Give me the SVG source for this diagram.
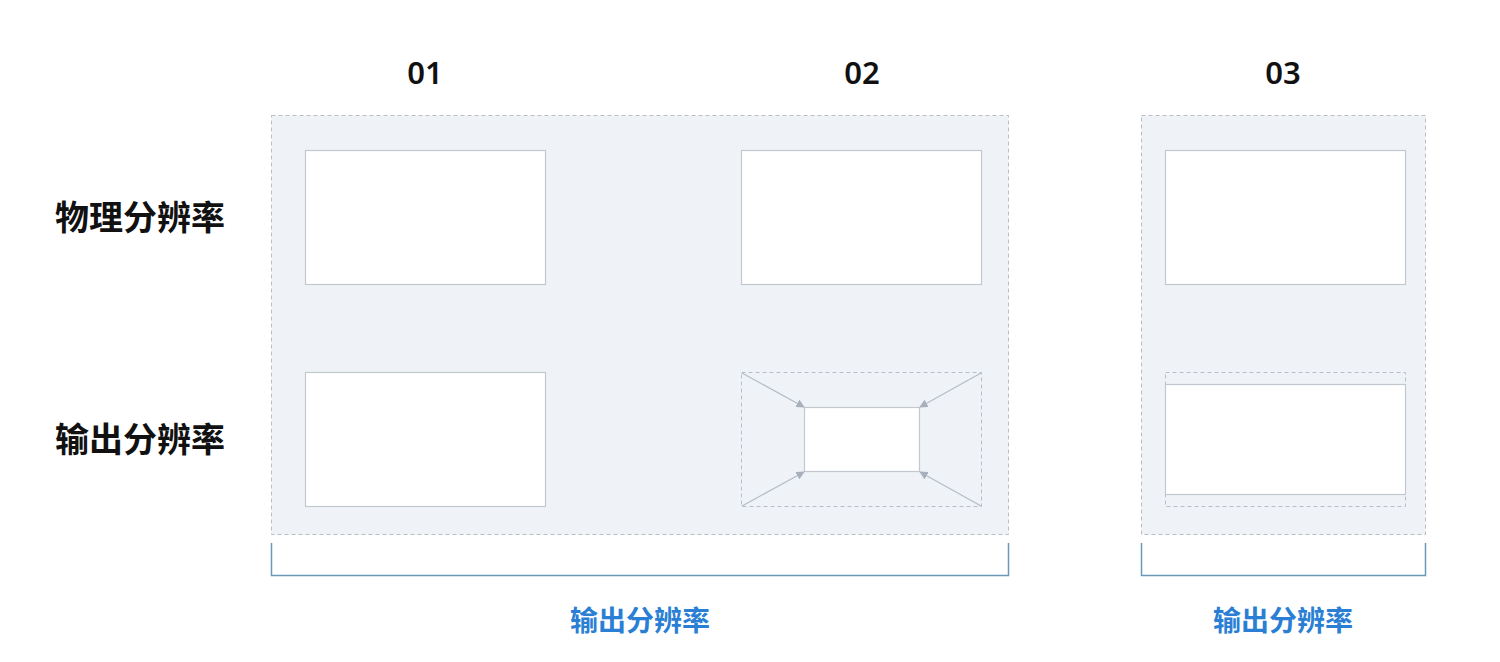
<svg xmlns="http://www.w3.org/2000/svg" width="1500" height="662" viewBox="0 0 1500 662">
<style>
.panel{fill:#eff3f7;stroke:#b8bec6;stroke-width:1;stroke-dasharray:4 3}
.scr{fill:#fff;stroke:#c3c8cf;stroke-width:1.2}
.dash{fill:none;stroke:#b8bec6;stroke-width:1;stroke-dasharray:4 3}
.arr{stroke:#b4bcc6;stroke-width:1.2;marker-end:url(#ah)}
.br{fill:none;stroke:#6a9ab8;stroke-width:1.5}
.h{font-family:"Noto Sans","Noto Sans CJK SC",sans-serif;font-size:31px;font-weight:600;fill:#111;text-anchor:middle}
.r{font-family:"Noto Sans CJK SC",sans-serif;font-size:34px;font-weight:700;fill:#111}
.b{font-family:"Noto Sans CJK SC",sans-serif;font-size:28px;font-weight:700;fill:#2a7fd4;text-anchor:middle}
</style>
<defs><marker id="ah" viewBox="0 0 10 10" refX="9" refY="5" markerWidth="7" markerHeight="7" orient="auto"><path d="M0,0L10,5L0,10z" fill="#a7b0bc"/></marker></defs>
<g id="labels">
<text class="h" x="425" y="84">01</text>
<text class="h" x="862" y="84">02</text>
<text class="h" x="1283" y="84">03</text>
<text class="r" x="55" y="230">物理分辨率</text>
<text class="r" x="55" y="452">输出分辨率</text>
<text class="b" x="640" y="631">输出分辨率</text>
<text class="b" x="1283" y="631">输出分辨率</text>
</g>
<g id="panelA"><rect class="panel" x="271.5" y="115.5" width="737" height="419"/></g>
<g id="panelB"><rect class="panel" x="1141.5" y="115.5" width="284" height="419"/></g>
<g id="s01p"><rect class="scr" x="305.5" y="150.5" width="240" height="134"/></g>
<g id="s01o"><rect class="scr" x="305.5" y="372.5" width="240" height="134"/></g>
<g id="s02p"><rect class="scr" x="741.5" y="150.5" width="240" height="134"/></g>
<g id="s02o"><rect class="dash" x="741.5" y="372.5" width="240" height="134"/><rect class="scr" x="804.5" y="407.5" width="115" height="64"/></g>
<g id="s03p"><rect class="scr" x="1165.5" y="150.5" width="240" height="134"/></g>
<g id="s03o"><rect class="dash" x="1165.5" y="372.5" width="240" height="134"/><rect class="scr" x="1165.5" y="384.5" width="240" height="110"/></g>
<g id="connectors">
<line class="arr" x1="742" y1="373" x2="804" y2="407"/>
<line class="arr" x1="981" y1="373" x2="920" y2="407"/>
<line class="arr" x1="742" y1="506" x2="804" y2="472"/>
<line class="arr" x1="981" y1="506" x2="920" y2="472"/>
<path class="br" d="M271.5,543V575.5H1008.5V543"/>
<path class="br" d="M1141.5,543V575.5H1425.5V543"/>
</g>
</svg>
